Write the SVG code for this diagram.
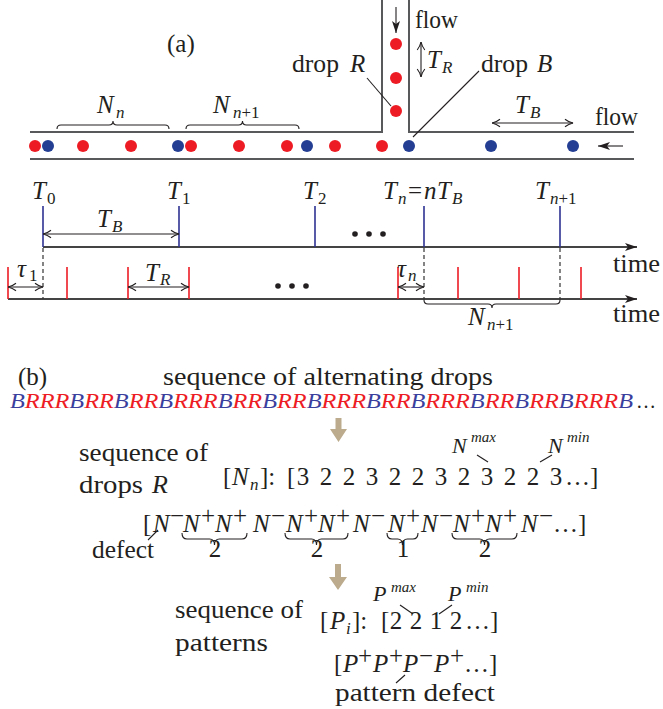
<svg xmlns="http://www.w3.org/2000/svg" width="663" height="709" viewBox="0 0 663 709">
<style>
text{font-family:"Liberation Serif","Times New Roman",serif;font-size:25px;fill:#231f20}
.i{font-style:italic}
.s{font-size:17px}
.ss{font-size:15px}
.ch{stroke:#58595b;stroke-width:2;fill:none}
.ax{stroke:#444;stroke-width:1.8;fill:none}
.bt{stroke:#2e3192;stroke-width:1.6}
.rt{stroke:#ed1c24;stroke-width:1.6}
.ln{stroke:#231f20;stroke-width:1.1;fill:none}
.da{stroke:#333;stroke-width:1.2;stroke-dasharray:4 3}
.br{stroke:#231f20;stroke-width:1.1;fill:none}
.rd{fill:#ed1c24}
.bd{fill:#233e93}
.tan{fill:#bcab8c}
</style>
<defs>
<marker id="v" viewBox="0 0 10 10" refX="9.5" refY="5" markerWidth="10" markerHeight="10" markerUnits="userSpaceOnUse" orient="auto-start-reverse">
<path d="M1.5,1.2 Q5,4 9.5,5 Q5,6 1.5,8.8" fill="none" stroke="#231f20" stroke-width="1.1"/>
</marker>
<marker id="f" viewBox="0 0 12 8" refX="12" refY="4" markerWidth="12" markerHeight="8" markerUnits="userSpaceOnUse" orient="auto">
<path d="M0,0 L12,4 L0,8 L3,4 z" fill="#231f20"/>
</marker>
</defs>

<g id="panel-a">
<text x="167" y="52">(a)</text>
<g id="channel">
<path class="ch" d="M30,132 H382 V0 M409,0 V132 H634 M30,159 H634"/>
</g>
<g id="drops">
<circle class="rd" cx="35" cy="146" r="6"/>
<circle class="bd" cx="48" cy="146" r="6"/>
<circle class="rd" cx="83" cy="146" r="6"/>
<circle class="rd" cx="131" cy="146" r="6"/>
<circle class="bd" cx="178" cy="146" r="6"/>
<circle class="rd" cx="191" cy="146" r="6"/>
<circle class="rd" cx="239" cy="146" r="6"/>
<circle class="rd" cx="287" cy="146" r="6"/>
<circle class="bd" cx="307" cy="146" r="6"/>
<circle class="rd" cx="335" cy="146" r="6"/>
<circle class="rd" cx="382" cy="146" r="6"/>
<circle class="bd" cx="409" cy="146" r="6"/>
<circle class="bd" cx="491" cy="146" r="6"/>
<circle class="bd" cx="573" cy="146" r="6"/>
<circle class="rd" cx="396" cy="44" r="6"/>
<circle class="rd" cx="396" cy="78" r="6"/>
<circle class="rd" cx="396" cy="111" r="6"/>
</g>
<g id="flow-arrows">
<line class="ln" x1="396" y1="7" x2="396" y2="33" marker-end="url(#f)"/>
<line class="ln" x1="623" y1="146" x2="598" y2="146" marker-end="url(#f)"/>
<text x="415" y="28" textLength="43" lengthAdjust="spacingAndGlyphs">flow</text>
<text x="595" y="125" textLength="43" lengthAdjust="spacingAndGlyphs">flow</text>
</g>
<g id="dims-a">
<line class="ln" x1="421" y1="42" x2="421" y2="77" marker-start="url(#v)" marker-end="url(#v)"/>
<text class="i" x="427" y="68">T</text><text class="i s" x="442" y="73">R</text>
<line class="ln" x1="492" y1="123" x2="573" y2="123" marker-start="url(#v)" marker-end="url(#v)"/>
<text class="i" x="515" y="113">T</text><text class="i s" x="530" y="118">B</text>
<text x="292" y="72" textLength="47" lengthAdjust="spacingAndGlyphs">drop</text><text class="i" x="350" y="72">R</text>
<line class="ln" x1="367" y1="78" x2="391" y2="106"/>
<text x="481" y="72" textLength="47" lengthAdjust="spacingAndGlyphs">drop</text><text class="i" x="537" y="72">B</text>
<line class="ln" x1="479" y1="71" x2="413" y2="137"/>
<path class="br" d="M57,129 Q57,125 61,125 H109 Q113,125 113,121 Q113,125 117,125 H165 Q169,125 169,129"/>
<text class="i" x="97" y="113">N</text><text class="i s" x="116" y="118">n</text>
<path class="br" d="M186,129 Q186,125 190,125 H238.5 Q242.5,125 242.5,121 Q242.5,125 246.5,125 H295 Q299,125 299,129"/>
<text class="i" x="213" y="113">N</text><text class="s" x="233" y="118"><tspan class="i">n</tspan>+1</text>
</g>
<g id="timeline-top">
<line class="ax" x1="43" y1="247" x2="637" y2="247" marker-end="url(#f)"/>
<line class="bt" x1="43" y1="206" x2="43" y2="247"/>
<line class="bt" x1="179" y1="206" x2="179" y2="247"/>
<line class="bt" x1="315" y1="206" x2="315" y2="247"/>
<line class="bt" x1="424" y1="206" x2="424" y2="247"/>
<line class="bt" x1="560" y1="206" x2="560" y2="247"/>
<text class="i" x="32" y="199">T</text><text class="s" x="47" y="204">0</text>
<text class="i" x="167" y="199">T</text><text class="s" x="182" y="204">1</text>
<text class="i" x="303" y="199">T</text><text class="s" x="318" y="204">2</text>
<text class="i" x="383" y="199">T</text><text class="i s" x="398" y="204">n</text><text x="408" y="199">=</text><text class="i" x="424" y="199">n</text><text class="i" x="437" y="199">T</text><text class="i s" x="452" y="204">B</text>
<text class="i" x="535" y="199">T</text><text class="s" x="550" y="204"><tspan class="i">n</tspan>+1</text>
<line class="ln" x1="43" y1="234" x2="179" y2="234" marker-start="url(#v)" marker-end="url(#v)"/>
<text class="i" x="97" y="227">T</text><text class="i s" x="112" y="232">B</text>
<circle cx="355" cy="234" r="2.8" fill="#231f20"/><circle cx="369" cy="234" r="2.8" fill="#231f20"/><circle cx="383" cy="234" r="2.8" fill="#231f20"/>
<text x="613" y="272" textLength="47" lengthAdjust="spacingAndGlyphs">time</text>
</g>
<g id="timeline-bottom">
<line class="ax" x1="8" y1="299" x2="637" y2="299" marker-end="url(#f)"/>
<line class="rt" x1="8" y1="267" x2="8" y2="299"/>
<line class="rt" x1="67" y1="267" x2="67" y2="299"/>
<line class="rt" x1="128" y1="267" x2="128" y2="299"/>
<line class="rt" x1="189" y1="267" x2="189" y2="299"/>
<line class="rt" x1="398" y1="267" x2="398" y2="299"/>
<line class="rt" x1="458" y1="267" x2="458" y2="299"/>
<line class="rt" x1="519" y1="267" x2="519" y2="299"/>
<line class="rt" x1="581" y1="267" x2="581" y2="299"/>
<line class="da" x1="43" y1="248" x2="43" y2="299"/>
<line class="da" x1="424" y1="248" x2="424" y2="300"/>
<line class="da" x1="560" y1="248" x2="560" y2="300"/>
<line class="ln" x1="8" y1="287" x2="43" y2="287" marker-start="url(#v)" marker-end="url(#v)"/>
<text class="i" x="17" y="277">τ</text><text class="s" x="29" y="281">1</text>
<line class="ln" x1="128" y1="287" x2="189" y2="287" marker-start="url(#v)" marker-end="url(#v)"/>
<text class="i" x="145" y="281">T</text><text class="i s" x="160" y="285">R</text>
<line class="ln" x1="398" y1="287" x2="424" y2="287" marker-start="url(#v)" marker-end="url(#v)"/>
<text class="i" x="397" y="277">τ</text><text class="i s" x="408" y="281">n</text>
<circle cx="278" cy="286" r="2.8" fill="#231f20"/><circle cx="292" cy="286" r="2.8" fill="#231f20"/><circle cx="306" cy="286" r="2.8" fill="#231f20"/>
<path class="br" d="M424,300 Q424,304 428,304 H488 Q492,304 492,308 Q492,304 496,304 H556 Q560,304 560,300"/>
<text class="i" x="468" y="325">N</text><text class="s" x="487" y="330"><tspan class="i">n</tspan>+1</text>
<text x="613" y="322" textLength="47" lengthAdjust="spacingAndGlyphs">time</text>
</g>
</g>

<g id="panel-b">
<text x="18" y="385">(b)</text>
<text x="163" y="385" style="font-size:26px" textLength="330" lengthAdjust="spacingAndGlyphs">sequence of alternating drops</text>
<text class="i" x="10" y="408" style="font-size:21px" textLength="623" lengthAdjust="spacingAndGlyphs"><tspan fill="#3a3f9e">B</tspan><tspan fill="#ed1c24">RRR</tspan><tspan fill="#3a3f9e">B</tspan><tspan fill="#ed1c24">RR</tspan><tspan fill="#3a3f9e">B</tspan><tspan fill="#ed1c24">RR</tspan><tspan fill="#3a3f9e">B</tspan><tspan fill="#ed1c24">RRR</tspan><tspan fill="#3a3f9e">B</tspan><tspan fill="#ed1c24">RR</tspan><tspan fill="#3a3f9e">B</tspan><tspan fill="#ed1c24">RR</tspan><tspan fill="#3a3f9e">B</tspan><tspan fill="#ed1c24">RRR</tspan><tspan fill="#3a3f9e">B</tspan><tspan fill="#ed1c24">RR</tspan><tspan fill="#3a3f9e">B</tspan><tspan fill="#ed1c24">RRR</tspan><tspan fill="#3a3f9e">B</tspan><tspan fill="#ed1c24">RR</tspan><tspan fill="#3a3f9e">B</tspan><tspan fill="#ed1c24">RR</tspan><tspan fill="#3a3f9e">B</tspan><tspan fill="#ed1c24">RRR</tspan><tspan fill="#3a3f9e">B</tspan></text>
<text x="636" y="408" style="font-size:20px">…</text>

<g id="arrow1"><path class="tan" d="M335.5,418 H341.5 V429 H347 L338.5,442 L330,429 H335.5 Z"/></g>

<g id="drops-R">
<text x="79" y="461" style="font-size:26px" textLength="129" lengthAdjust="spacingAndGlyphs">sequence of</text>
<text x="79" y="493" style="font-size:26px" textLength="64" lengthAdjust="spacingAndGlyphs">drops</text><text class="i" x="152" y="493" style="font-size:26px">R</text>
<text x="223" y="485">[</text><text class="i" x="232" y="485">N</text><text class="i s" x="250" y="490">n</text><text x="260" y="485">]:</text><text x="287" y="485">[</text>
<g text-anchor="middle">
<text x="303" y="485">3</text><text x="326" y="485">2</text><text x="349" y="485">2</text><text x="372" y="485">3</text>
<text x="395" y="485">2</text><text x="418" y="485">2</text><text x="441" y="485">3</text><text x="464" y="485">2</text>
<text x="487" y="485">3</text><text x="510" y="485">2</text><text x="533" y="485">2</text><text x="556" y="485">3</text>
</g>
<text x="565" y="485">…]</text>
<text class="i" x="452" y="453" style="font-size:22px">N</text><text class="i ss" x="471" y="442">max</text>
<line class="ln" x1="477" y1="455" x2="488" y2="462"/>
<text class="i" x="548" y="453" style="font-size:22px">N</text><text class="i ss" x="567" y="442">min</text>
<line class="ln" x1="552" y1="455" x2="540" y2="462"/>
</g>

<g id="defects">
<text x="143" y="532">[</text>
<g class="i">
<text x="153" y="532">N</text>
<text x="183" y="532">N</text><text x="215" y="532">N</text>
<text x="253" y="532">N</text>
<text x="286" y="532">N</text><text x="318" y="532">N</text>
<text x="353" y="532">N</text>
<text x="388" y="532">N</text>
<text x="421" y="532">N</text>
<text x="453" y="532">N</text><text x="485" y="532">N</text>
<text x="521" y="532">N</text>
</g>
<g class="s">
<text x="170" y="524">−</text>
<text x="201" y="524">+</text><text x="233" y="524">+</text>
<text x="271" y="524">−</text>
<text x="304" y="524">+</text><text x="336" y="524">+</text>
<text x="371" y="524">−</text>
<text x="406" y="524">+</text>
<text x="439" y="524">−</text>
<text x="471" y="524">+</text><text x="503" y="524">+</text>
<text x="539" y="524">−</text>
</g>
<text x="553" y="532">…]</text>
<path class="br" d="M182,533 Q182,539 187,539 H209.5 Q214.5,539 214.5,545 Q214.5,539 219.5,539 H242 Q247,539 247,533"/>
<path class="br" d="M285,533 Q285,539 290,539 H311.5 Q316.5,539 316.5,545 Q316.5,539 321.5,539 H343 Q348,539 348,533"/>
<path class="br" d="M387,533 Q387,539 392,539 H397.5 Q402.5,539 402.5,545 Q402.5,539 407.5,539 H413 Q418,539 418,533"/>
<path class="br" d="M452,533 Q452,539 457,539 H479.5 Q484.5,539 484.5,545 Q484.5,539 489.5,539 H512 Q517,539 517,533"/>
<g text-anchor="middle" style="font-size:22px">
<text x="215" y="557">2</text><text x="317" y="557">2</text><text x="403" y="557">1</text><text x="485" y="557">2</text>
</g>
<text x="92" y="558" style="font-size:26px" textLength="62" lengthAdjust="spacingAndGlyphs">defect</text>
<line class="ln" x1="148" y1="540" x2="158" y2="530"/>
</g>

<g id="arrow2"><path class="tan" d="M335,564 H341 V577 H347 L338,590 L329,577 H335 Z"/></g>

<g id="patterns">
<text x="175" y="618" style="font-size:26px" textLength="128" lengthAdjust="spacingAndGlyphs">sequence of</text>
<text x="175" y="651" style="font-size:26px" textLength="93" lengthAdjust="spacingAndGlyphs">patterns</text>
<text class="i" x="373" y="601" style="font-size:22px">P</text><text class="i ss" x="391" y="592">max</text>
<line class="ln" x1="400" y1="605" x2="413" y2="614"/>
<text class="i" x="448" y="601" style="font-size:22px">P</text><text class="i ss" x="466" y="592">min</text>
<line class="ln" x1="452" y1="605" x2="439" y2="614"/>
<text x="320" y="629">[</text><text class="i" x="330" y="629">P</text><text class="i s" x="346" y="634">i</text><text x="352" y="629">]:</text><text x="381" y="629">[</text>
<g text-anchor="middle"><text x="396" y="629">2</text><text x="416" y="629">2</text><text x="436" y="629">1</text><text x="456" y="629">2</text></g>
<text x="465" y="629">…]</text>
<text x="334" y="672">[</text>
<g class="i"><text x="343" y="672">P</text><text x="373" y="672">P</text><text x="403" y="672">P</text><text x="434" y="672">P</text></g>
<g class="s"><text x="358" y="664">+</text><text x="389" y="664">+</text><text x="419" y="664">−</text><text x="450" y="664">+</text></g>
<text x="464" y="672">…]</text>
<line class="ln" x1="405" y1="675" x2="396" y2="683"/>
<text x="335" y="701" style="font-size:26px" textLength="160" lengthAdjust="spacingAndGlyphs">pattern defect</text>
</g>
</g>
</svg>
